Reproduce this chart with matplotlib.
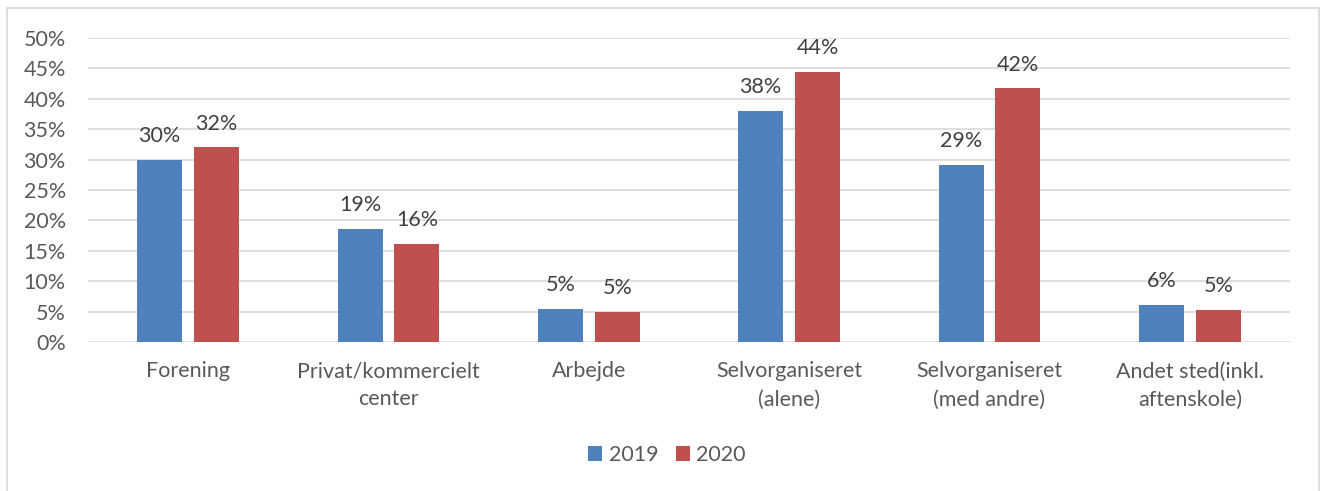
import matplotlib
matplotlib.use("Agg")
import matplotlib.pyplot as plt
from matplotlib.patches import Rectangle, Patch
from matplotlib.ticker import FuncFormatter

# ── Data ───────────────────────────────────────────────────────────────────────
categories = [
    "Forening",
    "Privat/kommercielt\ncenter",
    "Arbejde",
    "Selvorganiseret\n(alene)",
    "Selvorganiseret\n(med andre)",
    "Andet sted(inkl.\naftenskole)",
]
values_2019 = [30.0, 18.6, 5.4, 38.0, 29.1, 6.1]
values_2020 = [32.0, 16.1, 5.0, 44.4, 41.7, 5.3]
series_names = ["2019", "2020"]
y_ticks = [0, 5, 10, 15, 20, 25, 30, 35, 40, 45, 50]

# ── Style ──────────────────────────────────────────────────────────────────────
COLORS = ["#4F81BD", "#C0504D"]
TEXT = "#595959"
GRID = "#D9D9D9"
FS = 15.5
plt.rcParams["font.family"] = ["Lato", "DejaVu Sans"]

W, H = 1322, 491
fig = plt.figure(figsize=(W / 100, H / 100), dpi=100)
ax = fig.add_axes([88 / W, (H - 342) / H, (1290 - 88) / W, (342 - 38) / H])

x = list(range(len(categories)))
bar_w = 0.225
offsets = [-0.142, 0.142]

for vals, off, col, name in zip([values_2019, values_2020], offsets, COLORS, series_names):
    xs = [i + off for i in x]
    bars = ax.bar(xs, vals, width=bar_w, color=col, label=name, zorder=3)
    for b, v in zip(bars, vals):
        ax.annotate(f"{round(v)}%", (b.get_x() + b.get_width() / 2, v),
                    xytext=(0, 10), textcoords="offset points",
                    ha="center", va="bottom", fontsize=FS, color="#404040")

ax.set_xlim(-0.5, len(categories) - 0.5)
ax.set_ylim(0, 50)
ax.set_yticks(y_ticks)
ax.yaxis.set_major_formatter(FuncFormatter(lambda v, _: f"{v:.0f}%"))
ax.set_xticks(x)
ax.set_xticklabels(categories, linespacing=1.5)
ax.tick_params(axis="both", length=0, labelsize=FS, labelcolor=TEXT)
ax.tick_params(axis="x", pad=14)
ax.tick_params(axis="y", pad=16)
ax.grid(axis="y", color=GRID, linewidth=1.2, zorder=0)
for s in ax.spines.values():
    s.set_visible(False)

handles = [Patch(facecolor=c, label=n) for c, n in zip(COLORS, series_names)]
fig.legend(handles=handles, loc="center", bbox_to_anchor=(667 / W, 1 - 455 / H),
           ncol=2, frameon=False, fontsize=FS, handlelength=0.65, handleheight=0.65,
           handletextpad=0.3, columnspacing=0.8, labelcolor=TEXT)

# outer chart border (bottom edge falls outside the image)
fig.patches.append(Rectangle((7 / W, -0.02), (1319 - 7) / W, 1.02 - 8 / H,
                             transform=fig.transFigure, fill=False,
                             edgecolor=GRID, linewidth=1.2))

fig.savefig("out.png", dpi=100)
